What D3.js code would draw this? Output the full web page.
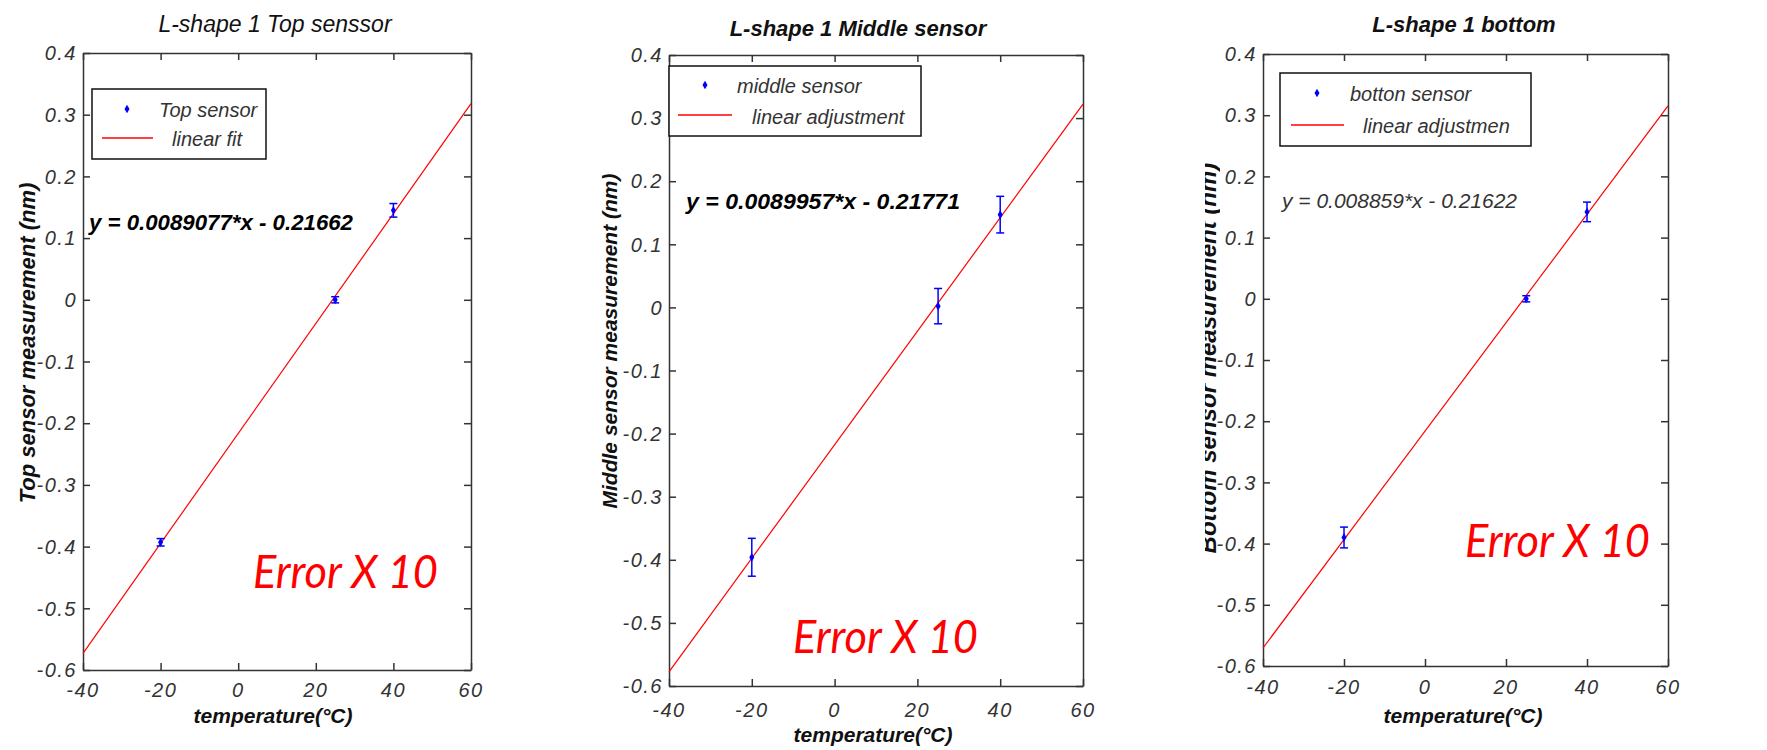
<!DOCTYPE html>
<html lang="en">
<head>
  <meta charset="UTF-8">
  <title>L-shape 1 sensors</title>
  <script src="https://d3js.org/d3.v7.min.js"></script>
  <style>
    body { margin: 0; background: white; }
    svg { display: block; font-family: "Liberation Sans", Arial, sans-serif; }
    .domain, .tick line { stroke: #333; stroke-width: 1.5; }
  </style>
</head>
<body>
  <div id="chart"></div>
  <script>

    // measured temperatures (°C)
    const temps = [-20, 25, 40]

    const topVals = [-0.393, 0.0, 0.145]
    const topErr = [0.006, 0.005, 0.011]
    const midVals = [-0.396, 0.002, 0.147]
    const midErr = [0.030, 0.028, 0.029]
    const botVals = [-0.390, 0.0, 0.142]
    const botErr = [0.017, 0.005, 0.016]

    // linear fits: [slope, intercept]
    const topFit = [0.0089077, -0.21662]
    const midFit = [0.0089957, -0.21771]
    const botFit = [0.008859, -0.21622]

    const xTicks = [-40, -20, 0, 20, 40, 60]
    const yTicks = [0.4, 0.3, 0.2, 0.1, 0, -0.1, -0.2, -0.3, -0.4, -0.5, -0.6]

    const width = 1767
    const height = 750

    const svg = d3.select('#chart')
      .append('svg')
      .attr('width', width)
      .attr('height', height)

    const panels = [
      {
        box: { left: 83, right: 471, top: 53, bottom: 670 },
        vals: topVals, err: topErr, fit: topFit,
        title: 'L-shape 1 Top senssor', titleX: 275, titleY: 32, titleBold: false, titleSize: 23,
        yLabel: 'Top sensor measurement (nm)', yLabelX: 35, yLabelY: 343, yLabelSize: 22,
        xLabelX: 273, xLabelY: 723, xTickY: 697,
        legend: { x0: 92, y0: 89, x1: 266, y1: 159, mx: 127, my: 109, t1x: 159, t1y: 117,
          lx0: 102, lx1: 153, ly: 138, t2x: 172, t2y: 146, t1: 'Top sensor', t2: 'linear fit' },
        eq: 'y = 0.0089077*x - 0.21662', eqX: 89, eqY: 230, eqBold: true, eqLen: 264,
        errX: 253, errY: 588
      },
      {
        box: { left: 669, right: 1083, top: 55, bottom: 686 },
        vals: midVals, err: midErr, fit: midFit,
        title: 'L-shape 1 Middle sensor', titleX: 858, titleY: 36, titleBold: true, titleSize: 22,
        yLabel: 'Middle sensor measurement (nm)', yLabelX: 617, yLabelY: 341, yLabelSize: 21,
        xLabelX: 873, xLabelY: 742, xTickY: 717,
        legend: { x0: 669, y0: 66, x1: 921, y1: 136, mx: 705, my: 85, t1x: 737, t1y: 93,
          lx0: 678, lx1: 732, ly: 115, t2x: 752, t2y: 124, t1: 'middle sensor', t2: 'linear adjustment' },
        eq: 'y = 0.0089957*x - 0.21771', eqX: 686, eqY: 209, eqBold: true, eqLen: 274,
        errX: 793, errY: 653
      },
      {
        box: { left: 1263, right: 1668, top: 54, bottom: 666 },
        vals: botVals, err: botErr, fit: botFit,
        title: 'L-shape 1 bottom', titleX: 1464, titleY: 32, titleBold: true, titleSize: 22,
        yLabel: 'Bottom sensor measurement (nm)', yLabelX: 1216, yLabelY: 358, yLabelSize: 24,
        yLabelClip: [1205, 1220],
        xLabelX: 1463, xLabelY: 723, xTickY: 694,
        legend: { x0: 1280, y0: 73, x1: 1531, y1: 146, mx: 1317, my: 93, t1x: 1350, t1y: 101,
          lx0: 1291, lx1: 1344, ly: 125, t2x: 1363, t2y: 133, t1: 'botton sensor', t2: 'linear adjustmen' },
        eq: 'y = 0.008859*x - 0.21622', eqX: 1282, eqY: 208, eqBold: false, eqLen: 235,
        errX: 1465, errY: 557
      }
    ]

    const fmtY = d => d === 0 ? '0' : d.toFixed(1)
    const fmtX = d => String(d)

    panels.forEach((p, i) => {
      const b = p.box
      const x = d3.scaleLinear().domain([-40, 60]).range([b.left, b.right])
      const y = d3.scaleLinear().domain([-0.6, 0.4]).range([b.bottom, b.top])
      const g = svg.append('g')

      // frame with inward ticks on all sides
      g.append('g')
        .attr('transform', `translate(0,${b.bottom})`)
        .call(d3.axisBottom(x).tickValues(xTicks).tickSize(-7).tickSizeOuter(0).tickFormat(() => ''))
      g.append('g')
        .attr('transform', `translate(0,${b.top})`)
        .call(d3.axisTop(x).tickValues(xTicks).tickSize(-7).tickSizeOuter(0).tickFormat(() => ''))
      g.append('g')
        .attr('transform', `translate(${b.left},0)`)
        .call(d3.axisLeft(y).tickValues(yTicks).tickSize(-7).tickSizeOuter(0).tickFormat(() => ''))
      g.append('g')
        .attr('transform', `translate(${b.right},0)`)
        .call(d3.axisRight(y).tickValues(yTicks).tickSize(-7).tickSizeOuter(0).tickFormat(() => ''))

      // tick labels
      g.selectAll('.xlab')
        .data(xTicks)
        .enter().append('text')
        .attr('class', 'xlab')
        .attr('x', d => x(d))
        .attr('y', p.xTickY)
        .attr('text-anchor', 'middle')
        .attr('font-style', 'italic')
        .attr('font-size', 20)
        .attr('letter-spacing', 1.5)
        .attr('fill', '#333')
        .text(fmtX)
      g.selectAll('.ylab')
        .data(yTicks)
        .enter().append('text')
        .attr('class', 'ylab')
        .attr('x', b.left - 6)
        .attr('y', d => y(d))
        .attr('dy', '0.36em')
        .attr('text-anchor', 'end')
        .attr('font-style', 'italic')
        .attr('font-size', 20)
        .attr('letter-spacing', 1.5)
        .attr('fill', '#333')
        .text(fmtY)

      // fit line
      const line = d3.line().x(d => x(d)).y(d => y(p.fit[0] * d + p.fit[1]))
      g.append('path')
        .datum([-40, 60])
        .attr('d', line)
        .attr('fill', 'none')
        .attr('stroke', '#ff0000')
        .attr('stroke-width', 1.2)

      // data with error bars
      const pts = temps.map((t, k) => ({ t, v: p.vals[k], e: p.err[k] }))
      const eb = g.selectAll('.eb').data(pts).enter().append('g')
        .attr('stroke', '#0000ff').attr('stroke-width', 1.5)
      eb.append('line')
        .attr('x1', d => x(d.t)).attr('x2', d => x(d.t))
        .attr('y1', d => y(d.v - d.e)).attr('y2', d => y(d.v + d.e))
      eb.append('line')
        .attr('x1', d => x(d.t) - 4).attr('x2', d => x(d.t) + 4)
        .attr('y1', d => y(d.v - d.e)).attr('y2', d => y(d.v - d.e))
      eb.append('line')
        .attr('x1', d => x(d.t) - 4).attr('x2', d => x(d.t) + 4)
        .attr('y1', d => y(d.v + d.e)).attr('y2', d => y(d.v + d.e))
      g.selectAll('.pt').data(pts).enter().append('path')
        .attr('d', d3.symbol(d3.symbolDiamond, 22))
        .attr('transform', d => `translate(${x(d.t)},${y(d.v)})`)
        .attr('fill', '#0000ff')

      // legend
      const L = p.legend
      g.append('rect')
        .attr('x', L.x0).attr('y', L.y0)
        .attr('width', L.x1 - L.x0).attr('height', L.y1 - L.y0)
        .attr('fill', 'white').attr('stroke', '#111').attr('stroke-width', 1.5)
      g.append('path')
        .attr('d', d3.symbol(d3.symbolDiamond, 22))
        .attr('transform', `translate(${L.mx},${L.my})`)
        .attr('fill', '#0000ff')
      g.append('line')
        .attr('x1', L.lx0).attr('x2', L.lx1).attr('y1', L.ly).attr('y2', L.ly)
        .attr('stroke', '#ff0000').attr('stroke-width', 1.5)
      g.append('text')
        .attr('x', L.t1x).attr('y', L.t1y)
        .attr('font-style', 'italic').attr('font-size', 20).attr('fill', '#333')
        .text(L.t1)
      g.append('text')
        .attr('x', L.t2x).attr('y', L.t2y)
        .attr('font-style', 'italic').attr('font-size', 20).attr('fill', '#333')
        .text(L.t2)

      // equation
      g.append('text')
        .attr('x', p.eqX).attr('y', p.eqY)
        .attr('font-style', 'italic')
        .attr('font-weight', p.eqBold ? 'bold' : 'normal')
        .attr('font-size', p.eqBold ? 22 : 21)
        .attr('fill', p.eqBold ? '#000' : '#333')
        .attr('textLength', p.eqLen)
        .attr('lengthAdjust', 'spacingAndGlyphs')
        .text(p.eq)

      // title
      g.append('text')
        .attr('x', p.titleX).attr('y', p.titleY)
        .attr('text-anchor', 'middle')
        .attr('font-style', 'italic')
        .attr('font-weight', p.titleBold ? 'bold' : 'normal')
        .attr('font-size', p.titleSize)
        .attr('fill', '#111')
        .text(p.title)

      // x label
      g.append('text')
        .attr('x', p.xLabelX).attr('y', p.xLabelY)
        .attr('text-anchor', 'middle')
        .attr('font-style', 'italic')
        .attr('font-weight', 'bold')
        .attr('font-size', 21)
        .attr('fill', '#111')
        .text('temperature(°C)')

      // y label (the third one is half hidden in the original)
      const ylg = g.append('g')
      ylg.append('text')
        .attr('transform', `translate(${p.yLabelX},${p.yLabelY}) rotate(-90)`)
        .attr('text-anchor', 'middle')
        .attr('font-style', 'italic')
        .attr('font-weight', 'bold')
        .attr('font-size', p.yLabelSize)
        .attr('fill', '#111')
        .text(p.yLabel)
      if (p.yLabelClip) {
        svg.append('clipPath').attr('id', 'yclip' + i)
          .append('rect')
          .attr('x', p.yLabelClip[0]).attr('y', 0)
          .attr('width', p.yLabelClip[1] - p.yLabelClip[0]).attr('height', height)
        ylg.attr('clip-path', `url(#yclip${i})`)
      }

      // annotation
      g.append('text')
        .attr('x', p.errX).attr('y', p.errY)
        .attr('font-family', 'Lato, sans-serif')
        .attr('font-style', 'italic')
        .attr('font-size', 46)
        .attr('fill', '#ff0000')
        .attr('textLength', 185)
        .attr('lengthAdjust', 'spacingAndGlyphs')
        .text('Error X 10')
    })

  </script>
</body>
</html>
